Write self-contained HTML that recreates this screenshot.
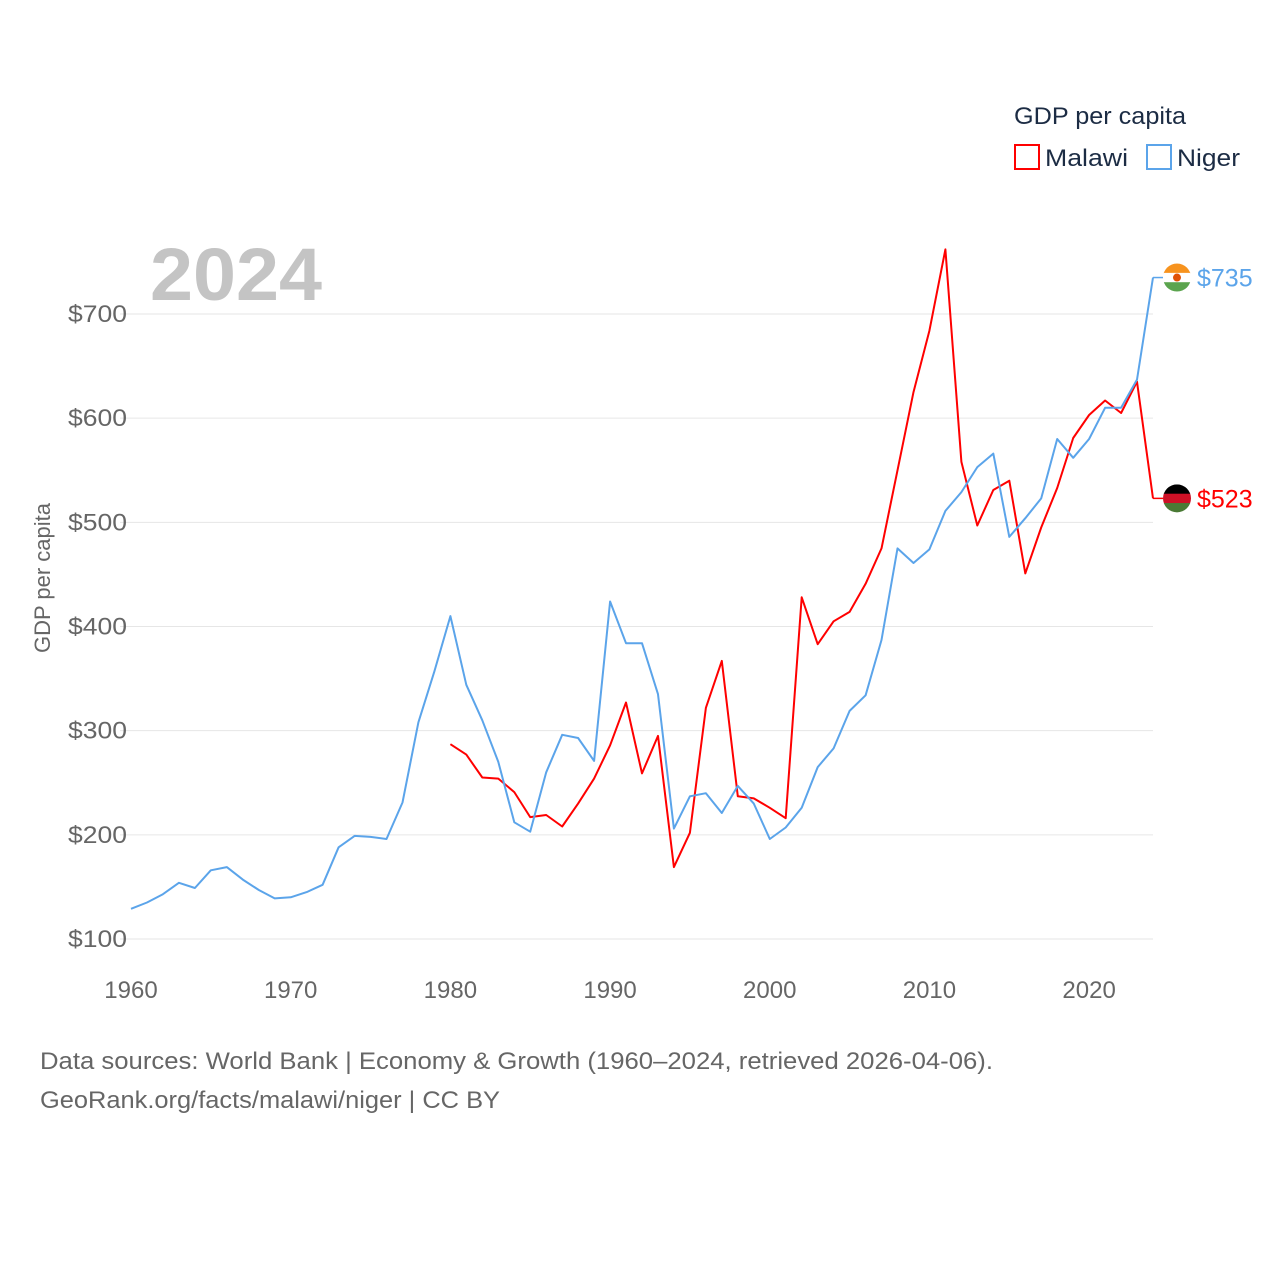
<!DOCTYPE html>
<html><head><meta charset="utf-8"><style>
body{margin:0;background:#fff;font-family:"Liberation Sans",sans-serif}
svg text{font-family:"Liberation Sans",sans-serif}
</style></head><body>
<svg width="1280" height="1280" viewBox="0 0 1280 1280">
<g id="grid"></g>
<g id="yticks"></g>
<g id="xticks"></g>
<text x="150" y="300" font-size="74" font-weight="bold" fill="#c4c4c4" textLength="172" lengthAdjust="spacingAndGlyphs">2024</text>
<text transform="translate(50,578) rotate(-90)" text-anchor="middle" font-size="22" fill="#666">GDP per capita</text>
<g id="series"></g>
<text x="1014" y="124" font-size="24" fill="#1c2c44" textLength="172" lengthAdjust="spacingAndGlyphs">GDP per capita</text>
<g><rect x="1015" y="145" width="24" height="24" fill="none" stroke="#f00" stroke-width="2"/><text x="1045" y="166" font-size="24" fill="#1c2c44" textLength="83" lengthAdjust="spacingAndGlyphs">Malawi</text></g>
<g><rect x="1147" y="145" width="24" height="24" fill="none" stroke="#5ba4ea" stroke-width="2"/><text x="1177" y="166" font-size="24" fill="#1c2c44" textLength="63" lengthAdjust="spacingAndGlyphs">Niger</text></g>
<text x="40" y="1069" font-size="24" fill="#666" textLength="953" lengthAdjust="spacingAndGlyphs">Data sources: World Bank | Economy &amp; Growth (1960–2024, retrieved 2026-04-06).</text>
<text x="40" y="1108" font-size="24" fill="#666" textLength="460" lengthAdjust="spacingAndGlyphs">GeoRank.org/facts/malawi/niger | CC BY</text>
</svg>
<script>
const nigerStart=1960;
const nigerValues=[129,135,143,154,149,166,169,157,147,139,140,145,152,188,199,198,196,231,308,357,410,344,310,270,212,203,260,296,293,271,424,384,384,335,206,237,240,221,247,230,196,207,226,265,283,319,334,387,475,461,474,511,529,553,566,486,504,523,580,562,580,610,610,637,735];
const malawiStart=1980;
const malawiValues=[287,277,255,254,241,217,219,208,230,254,286,327,259,295,169,202,322,367,237,235,226,216,428,383,405,414,441,475,550,625,684,762,558,497,531,540,451,495,533,581,603,617,605,635,523];
const yTicks=[100,200,300,400,500,600,700];
const xTicks=[1960,1970,1980,1990,2000,2010,2020];
const NS='http://www.w3.org/2000/svg';
const x=yr=>131+(yr-1960)*(1153-131)/64;
const y=v=>939-(v-100)*(939-314)/600;
function mk(t,a,p){const e=document.createElementNS(NS,t);for(const k in a)e.setAttribute(k,a[k]);p.appendChild(e);return e;}
const grid=document.getElementById('grid'),yt=document.getElementById('yticks'),xt=document.getElementById('xticks'),ser=document.getElementById('series');
yTicks.forEach(v=>{
 const l=mk('line',{x1:120,x2:1153,y1:y(v),y2:y(v),stroke:'#e6e6e6','stroke-width':1},grid);
 
 
 const t=mk('text',{x:127,y:y(v)+8,'text-anchor':'end','font-size':24,fill:'#666',textLength:59,lengthAdjust:'spacingAndGlyphs'},yt);
 t.textContent='$'+v;
 
 
});
xTicks.forEach(v=>{
 const t=mk('text',{x:x(v),y:998,'text-anchor':'middle','font-size':24,fill:'#666'},xt);
 t.textContent=v;
 
 
});
function line(vals,start,color,name){
 const d=vals.map((v,i)=>(i?'L':'M')+x(start+i).toFixed(1)+','+y(v).toFixed(1)).join('');
 const p=mk('path',{d:d,fill:'none',stroke:color,'stroke-width':2,'stroke-linejoin':'round'},ser);
 
 
}
line(malawiValues,malawiStart,'#f00','malawi-line');
line(nigerValues,nigerStart,'#5ba4ea','niger-line');
function endLabel(vals,start,color,name,flag){
 const last=vals[vals.length-1],lx=x(start+vals.length-1),ly=y(last);
 const g=mk('g',{},ser);
 
 
 mk('line',{x1:lx,x2:lx+10,y1:ly,y2:ly,stroke:color,'stroke-width':1.5},g);
 const cx=lx+24,r=14;
 const cp=mk('clipPath',{id:'c'+name},g);mk('circle',{cx:cx,cy:ly,r:r},cp);
 const fg=mk('g',{'clip-path':'url(#c'+name+')'},g);
 flag.forEach((c,i)=>mk('rect',{x:cx-r,y:ly-r+i*2*r/3,width:2*r,height:2*r/3+0.5,fill:c},fg));
 if(name==='niger-end-label')mk('circle',{cx:cx,cy:ly,r:4,fill:'#e05206'},g);
 const t=mk('text',{x:lx+44,y:ly+9,'font-size':25,fill:color},g);
 t.textContent='$'+last;
}
endLabel(nigerValues,nigerStart,'#5ba4ea','niger-end-label',['#f7931e','#ffffff','#5ba44e']);
endLabel(malawiValues,malawiStart,'#f00','malawi-end-label',['#000000','#ce1126','#4a7a35']);
</script>
</body></html>
